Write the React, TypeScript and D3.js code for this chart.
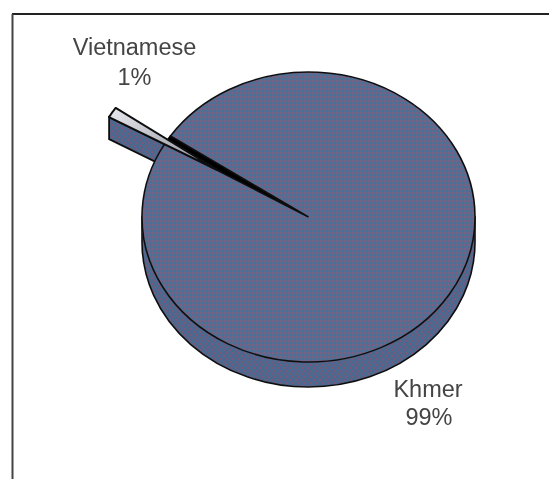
import React from "react";
import * as d3 from "d3";

const categories = ["Vietnamese", "Khmer"];
const shares = [1, 99];
const labelLines = [["Vietnamese", "1%"], ["Khmer", "99%"]];

const W = 549, H = 479;
const cx = 308.5, cy = 217, rx = 166.5, ry = 145, depth = 25;
const toRad = (d: number) => (d * Math.PI) / 180;

// unit circle → pixels
const px = d3.scaleLinear().domain([-1, 1]).range([cx - rx, cx + rx]);
const py = d3.scaleLinear().domain([-1, 1]).range([cy - ry, cy + ry]);

const pie = d3.pie<number>().sort(null).startAngle(toRad(-59.6)).endAngle(toRad(-59.6) + 2 * Math.PI);
const arcs = pie(shares);
const arcUnit = d3.arc<d3.PieArcDatum<number>>().innerRadius(0).outerRadius(1);

// The exploded slice: its top face looks a little wider in the projection
const sliceR = 0.745;
const sliceDx = -0.548, sliceDy = -0.324;
const sliceSpread = 1.6;
const viet = arcs[0];
const khmer = arcs[1];
const sliceMid = (viet.startAngle + viet.endAngle) / 2;
const sliceHalf = ((viet.endAngle - viet.startAngle) / 2) * sliceSpread;
const sliceStart = sliceMid - sliceHalf;
const sliceEnd = sliceMid + sliceHalf;
const corner = (a: number, r: number) => [sliceDx + r * Math.sin(a), sliceDy - r * Math.cos(a)];

export default function App() {
  const [ox0, oy0] = corner(sliceStart, sliceR);
  const [ax, ay] = corner(sliceStart, 0);
  const wallDepth = 22;
  const wallPath = d3.path();
  wallPath.moveTo(px(ox0), py(oy0));
  wallPath.lineTo(px(ax), py(ay));
  wallPath.lineTo(px(ax), py(ay) + wallDepth);
  wallPath.lineTo(px(ox0), py(oy0) + wallDepth);
  wallPath.closePath();

  const sidePath = `M${px(-1)},${py(0)} L${px(-1)},${py(0) + depth} A${rx},${ry} 0 0 0 ${px(1)},${py(0) + depth} L${px(1)},${py(0)} Z`;
  const facePath = `M${px(0)},${py(0)} L${px(Math.sin(khmer.startAngle))},${py(-Math.cos(khmer.startAngle))} A${rx},${ry} 0 1 1 ${px(Math.sin(khmer.endAngle))},${py(-Math.cos(khmer.endAngle))} Z`;
  const t = `translate(${cx},${cy}) scale(${rx},${ry})`;
  const sliceT = `translate(${px(sliceDx)},${py(sliceDy)}) scale(${rx},${ry})`;
  const sliceArc = d3.arc<any>().innerRadius(0).outerRadius(sliceR)({ startAngle: sliceStart, endAngle: sliceEnd }) ?? "";

  return (
    <svg width={W} height={H} style={{ position: "absolute", left: 0, top: 0, background: "#fff" }}>
      <defs>
        <pattern id="face" width="4" height="4" patternUnits="userSpaceOnUse">
          <rect width="4" height="4" fill="#5c6a8e" />
          <rect x="0" y="0" width="2" height="2" fill="#7c6084" />
          <rect x="2" y="2" width="2" height="2" fill="#4a7298" />
        </pattern>
        <pattern id="side" width="6" height="6" patternUnits="userSpaceOnUse">
          <rect width="6" height="6" fill="#4e688e" />
          <rect x="1" y="1" width="2" height="2" fill="#79597a" />
          <rect x="4" y="4" width="2" height="2" fill="#79597a" />
        </pattern>
        <linearGradient id="light" x1="0" x2="1" y1="0" y2="0.5">
          <stop offset="0" stopColor="#e8e8ee" />
          <stop offset="1" stopColor="#9a9aa4" />
        </linearGradient>
        <filter id="soft" x="-5%" y="-5%" width="110%" height="110%">
          <feGaussianBlur stdDeviation="0.7" />
        </filter>
      </defs>

      <g filter="url(#soft)">
        <line x1={12} y1={14} x2={W} y2={14} stroke="#222" strokeWidth={2} />
        <line x1={12.5} y1={14} x2={12.5} y2={H} stroke="#444" strokeWidth={2} />

        <path d={wallPath.toString()} fill="url(#side)" stroke="#111" strokeWidth={1.8} />
        <path d={sidePath} fill="url(#side)" stroke="#111" strokeWidth={1.6} />

        <g transform={t}>
          <path
            d={arcUnit(viet) ?? ""}
            fill="#000"
            stroke="#000"
            strokeWidth={1.6}
            vectorEffect="non-scaling-stroke"
          />
        </g>
        <path d={facePath} fill="url(#face)" stroke="#111" strokeWidth={1.6} />

        <g transform={sliceT}>
          <path
            d={sliceArc}
            fill="url(#light)"
            stroke="#111"
            strokeWidth={2}
            strokeLinejoin="round"
            vectorEffect="non-scaling-stroke"
          />
        </g>

        <g fontFamily="'Liberation Sans', Arial, sans-serif" fontSize={23.5} fill="#444" textAnchor="middle">
          <text x={134.5} y={55}>{labelLines[0][0]}</text>
          <text x={134.5} y={85}>{labelLines[0][1]}</text>
          <text x={428} y={397}>{labelLines[1][0]}</text>
          <text x={429} y={425}>{labelLines[1][1]}</text>
        </g>
      </g>
    </svg>
  );
}
